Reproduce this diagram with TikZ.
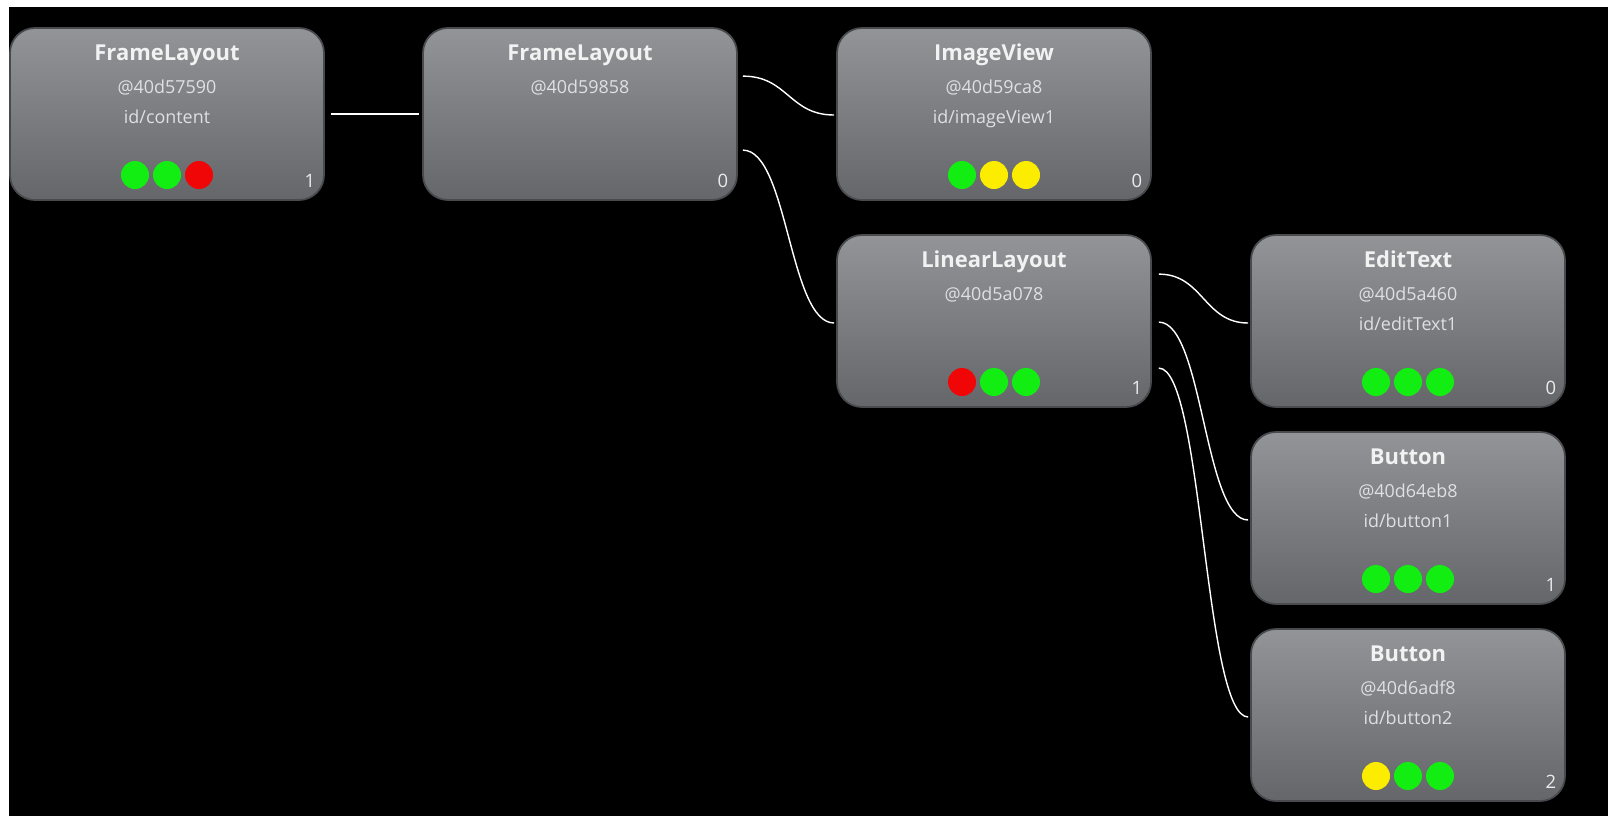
\documentclass[tikz,border=0pt]{standalone}
\usepackage{fontspec}
\setmainfont{Open Sans}
\usepackage{tikz}
\usetikzlibrary{positioning,calc}

\definecolor{boxtop}{RGB}{146,148,151}
\definecolor{boxbot}{RGB}{100,102,105}
\definecolor{boxrim}{RGB}{72,74,77}
\definecolor{subtxt}{RGB}{222,224,226}
\definecolor{ledgreen}{RGB}{18,238,18}
\definecolor{ledred}{RGB}{240,6,6}
\definecolor{ledyellow}{RGB}{252,236,0}

\begin{document}
\begin{tikzpicture}[x=0.2mm, y=-0.2mm,
    viewbox/.style={rectangle, rounded corners=5mm, minimum width=62.8mm, minimum height=34.4mm,
        top color=boxtop, bottom color=boxbot, draw=boxrim, line width=1pt},
    ttl/.style={anchor=base, text=white!95!black, inner sep=0pt, font=\fontsize{12.5}{15}\selectfont\bfseries},
    sub/.style={anchor=base, text=subtxt, inner sep=0pt, font=\fontsize{10.2}{12}\selectfont},
    idx/.style={anchor=base, text=white!92!black, inner sep=0pt, font=\fontsize{10.5}{12}\selectfont},
    wire/.style={white, line width=0.8pt}]

    % Background
    \fill[white] (0,0) rectangle (1608,816);
    \fill[black] (9,7) rectangle (1608,816);
    \useasboundingbox (0,0) rectangle (1608,816);

    % View boxes: name/x/y/class/address/id/index/leds
    \foreach \n/\x/\y/\cls/\adr/\vid/\k/\la/\lb/\lc in {
        fl1/167/114/FrameLayout/@40d57590/{id/content}/1/ledgreen/ledgreen/ledred,
        fl2/580/114/FrameLayout/@40d59858/{}/0/none/none/none,
        iv/994/114/ImageView/@40d59ca8/{id/imageView1}/0/ledgreen/ledyellow/ledyellow,
        ll/994/321/LinearLayout/@40d5a078/{}/1/ledred/ledgreen/ledgreen,
        et/1408/321/EditText/@40d5a460/{id/editText1}/0/ledgreen/ledgreen/ledgreen,
        btn1/1408/518/Button/@40d64eb8/{id/button1}/1/ledgreen/ledgreen/ledgreen,
        btn2/1408/715/Button/@40d6adf8/{id/button2}/2/ledyellow/ledgreen/ledgreen}
    {
        \node[viewbox] (\n) at (\x,\y) {};
        \node[ttl] (\n-t) at ($(\n.north)+(0,33)$) {\cls};
        \node[sub] (\n-a) at ($(\n.north)+(0,66)$) {\adr};
        \node[sub] (\n-i) at ($(\n.north)+(0,96)$) {\vid};
        \node[idx] (\n-k) at ($(\n.south east)+(-15,-13)$) {\k};
        \path[fill=\la] ($(\n.center)+(-32,61)$) circle[radius=2.8mm];
        \path[fill=\lb] ($(\n.center)+(0,61)$) circle[radius=2.8mm];
        \path[fill=\lc] ($(\n.center)+(32,61)$) circle[radius=2.8mm];
    }

    % Connectors
    \draw[wire] ([xshift=1.2mm]fl1.east) -- ([xshift=-0.6mm]fl2.west);
    \draw[wire] ($(fl2.north east)+(5,49)$) .. controls +(45,0) and +(-45,0) .. ($(iv.west)+(-2,1)$);
    \draw[wire] ($(fl2.north east)+(5,123)$) .. controls +(45,0) and +(-45,0) .. ($(ll.west)+(-2,2)$);
    \draw[wire] ($(ll.north east)+(7,40)$) .. controls +(44,0) and +(-44,0) .. ($(et.west)+(-2,2)$);
    \draw[wire] ($(ll.north east)+(7,88)$) .. controls +(44,0) and +(-44,0) .. ($(btn1.west)+(-2,2)$);
    \draw[wire] ($(ll.north east)+(7,134)$) .. controls +(44,0) and +(-44,0) .. ($(btn2.west)+(-2,2)$);
\end{tikzpicture}
\end{document}
